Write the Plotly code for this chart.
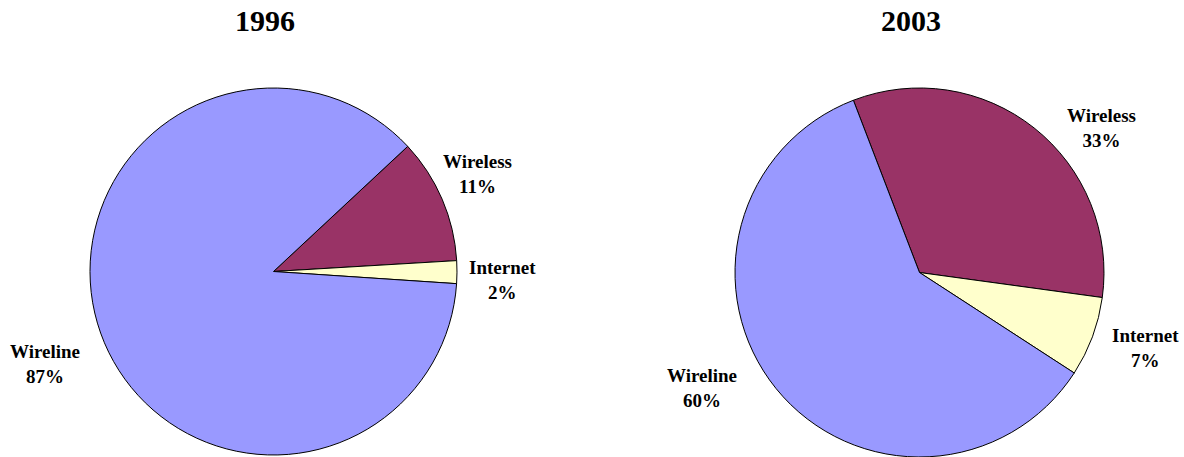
import plotly.graph_objects as go

# Share of telecom spending by segment
years = ["1996", "2003"]
segments = ["Wireless", "Internet", "Wireline"]
shares_1996 = [11, 2, 87]
shares_2003 = [33, 7, 60]
segment_colors = ["#993366", "#FFFFCC", "#9999FF"]

W, H = 1184, 457
FONT = "Liberation Serif, Times New Roman, serif"

# pie geometry in pixels: centre x, centre y (from top), radius, start rotation
pies = [
    dict(cx=273.5, cy=271.5, r=183.5, rotation=47, values=shares_1996),
    dict(cx=919.5, cy=272.5, r=184.5, rotation=-21, values=shares_2003),
]
# label block centres in pixels, per pie, in segment order
label_pos = [
    [(477.5, 174), (502, 280), (44.5, 364)],
    [(1101, 128), (1145, 348), (702, 388)],
]
title_pos = [(265, 21), (911, 21)]

fig = go.Figure()
annotations = []
for i, p in enumerate(pies):
    fig.add_trace(go.Pie(
        labels=segments,
        values=p["values"],
        sort=False,
        direction="clockwise",
        rotation=p["rotation"],
        marker=dict(colors=segment_colors, line=dict(color="black", width=1)),
        textinfo="none",
        hoverinfo="skip",
        showlegend=False,
        domain=dict(
            x=[(p["cx"] - p["r"]) / W, (p["cx"] + p["r"]) / W],
            y=[(H - p["cy"] - p["r"]) / H, (H - p["cy"] + p["r"]) / H],
        ),
    ))
    for seg, val, (lx, ly) in zip(segments, p["values"], label_pos[i]):
        annotations.append(dict(
            x=lx / W, y=1 - ly / H, xref="paper", yref="paper",
            xanchor="center", yanchor="middle", showarrow=False,
            text=f"<b>{seg}<br>{val}%</b>", align="center",
            font=dict(family=FONT, size=19, color="black"),
        ))
    tx, ty = title_pos[i]
    annotations.append(dict(
        x=tx / W, y=1 - ty / H, xref="paper", yref="paper",
        xanchor="center", yanchor="middle", showarrow=False,
        text=f"<b>{years[i]}</b>",
        font=dict(family=FONT, size=30, color="black"),
    ))

fig.update_layout(
    width=W, height=H,
    margin=dict(l=0, r=0, t=0, b=0),
    paper_bgcolor="white", plot_bgcolor="white",
    annotations=annotations,
)

fig.write_html("out.html")
